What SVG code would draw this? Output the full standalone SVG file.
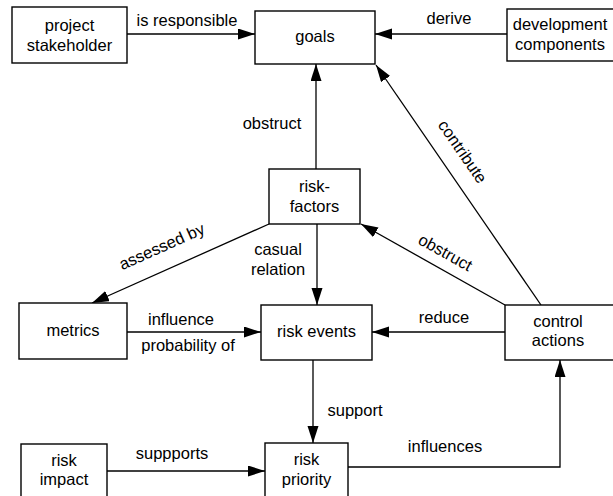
<svg xmlns="http://www.w3.org/2000/svg" width="613" height="496" viewBox="0 0 613 496">
<style>
.box{fill:#fff;stroke:#000;stroke-width:1.4}
.t{font-family:"Liberation Sans",Arial,sans-serif;font-size:16.5px;fill:#000;text-anchor:middle}
.c{fill:none;stroke:#000;stroke-width:1.3}
</style>
<defs>
<marker id="ah" markerUnits="userSpaceOnUse" markerWidth="18" markerHeight="12" refX="17" refY="5.5" orient="auto">
<path d="M0,0 L17,5.5 L0,11 z" fill="#000"/>
</marker>
</defs>
<rect width="613" height="496" fill="#fff"/>
<g id="connectors">
<path class="c" d="M127,34 L255,34" marker-end="url(#ah)"/>
<path class="c" d="M507,34 L375,34" marker-end="url(#ah)"/>
<path class="c" d="M316,169 L316,64" marker-end="url(#ah)"/>
<path class="c" d="M541,305 L376,65" marker-end="url(#ah)"/>
<path class="c" d="M505,305 L361,224" marker-end="url(#ah)"/>
<path class="c" d="M269,224 L92,303" marker-end="url(#ah)"/>
<path class="c" d="M317,224 L317,305" marker-end="url(#ah)"/>
<path class="c" d="M127,332 L261,332" marker-end="url(#ah)"/>
<path class="c" d="M505,332 L372,332" marker-end="url(#ah)"/>
<path class="c" d="M313,360 L313,443" marker-end="url(#ah)"/>
<path class="c" d="M107,471 L265,471" marker-end="url(#ah)"/>
<path class="c" d="M348,467 L560,467 L560,360" marker-end="url(#ah)"/>
<text class="t" x="187" y="26">is responsible</text>
<text class="t" x="449" y="24">derive</text>
<text class="t" x="272" y="129">obstruct</text>
<text class="t" transform="translate(462,152) rotate(55.4)" y="5">contribute</text>
<text class="t" transform="translate(445,253) rotate(29)" y="5">obstruct</text>
<text class="t" transform="translate(162,247) rotate(-24)" y="5">assessed by</text>
<text class="t" x="278" y="255">casual</text>
<text class="t" x="278" y="275">relation</text>
<text class="t" x="181" y="325">influence</text>
<text class="t" x="188" y="351">probability of</text>
<text class="t" x="444" y="323">reduce</text>
<text class="t" x="355" y="416">support</text>
<text class="t" x="172" y="459">suppports</text>
<text class="t" x="445" y="452">influences</text>
</g>
<g id="project-stakeholder">
<rect class="box" x="12" y="7" width="115" height="56"/>
<text class="t" x="69.5" y="31">project</text>
<text class="t" x="69.5" y="51">stakeholder</text>
</g>
<g id="goals">
<rect class="box" x="255" y="11" width="120" height="53"/>
<text class="t" x="315" y="42">goals</text>
</g>
<g id="development-components">
<rect class="box" x="507" y="9" width="115" height="52"/>
<text class="t" x="560" y="30">development</text>
<text class="t" x="560" y="50">components</text>
</g>
<g id="risk-factors">
<rect class="box" x="269" y="169" width="91" height="55"/>
<text class="t" x="314.5" y="192">risk-</text>
<text class="t" x="314.5" y="212">factors</text>
</g>
<g id="metrics">
<rect class="box" x="19" y="303" width="108" height="56"/>
<text class="t" x="73" y="336">metrics</text>
</g>
<g id="risk-events">
<rect class="box" x="261" y="305" width="111" height="55"/>
<text class="t" x="316.5" y="337">risk events</text>
</g>
<g id="control-actions">
<rect class="box" x="505" y="305" width="115" height="55"/>
<text class="t" x="558" y="327">control</text>
<text class="t" x="558" y="346">actions</text>
</g>
<g id="risk-impact">
<rect class="box" x="21" y="444" width="86" height="60"/>
<text class="t" x="64" y="466">risk</text>
<text class="t" x="64" y="485">impact</text>
</g>
<g id="risk-priority">
<rect class="box" x="265" y="443" width="83" height="61"/>
<text class="t" x="306.5" y="465">risk</text>
<text class="t" x="306.5" y="485">priority</text>
</g>
</svg>
